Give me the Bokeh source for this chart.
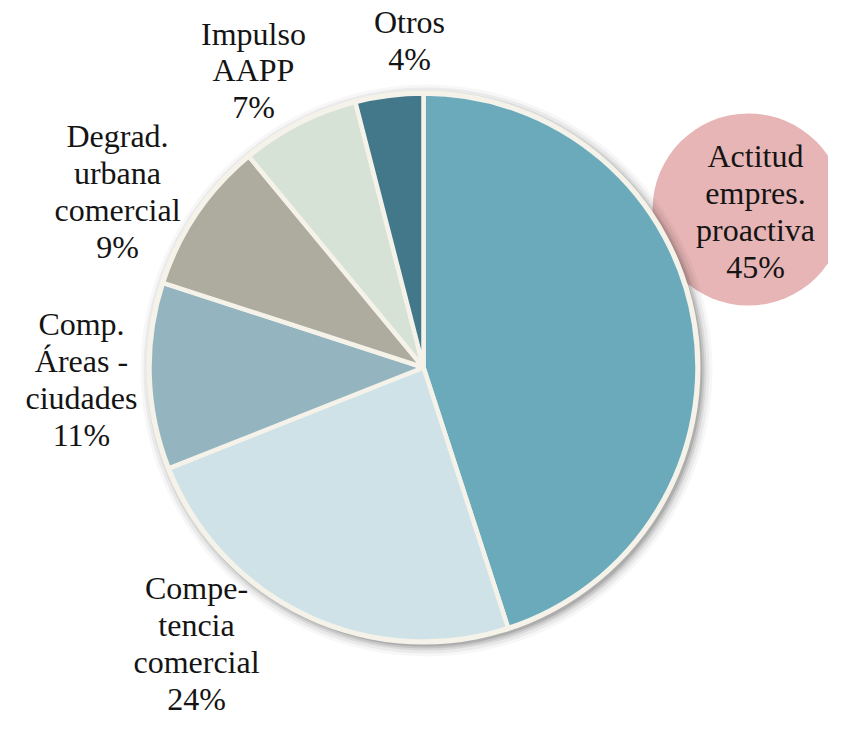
import math
from bokeh.plotting import figure
from bokeh.models import Range1d, ColumnDataSource
from bokeh.core.properties import value
from bokeh.embed import file_html
from bokeh.resources import INLINE

# ---- data ----
categories = ["Actitud\nempres.\nproactiva", "Compe-\ntencia\ncomercial",
              "Comp.\nÁreas -\nciudades", "Degrad.\nurbana\ncomercial",
              "Impulso\nAAPP", "Otros"]
shares = [45, 24, 11, 9, 7, 4]
colors = ["#6aaabb", "#cee2e7", "#94b5bf", "#aeab9f", "#d6e2d5", "#42788a"]

# ---- layout (page pixel coordinates; y is negated for data space) ----
W, H = 828, 720
OFF = 1
CX, CY, R = 424, 368, 274
label_pos = [(756, 212), (197, 644), (82, 380), (118, 192), (254, 71), (410, 41)]
bubble = (749, 210, 96)

p = figure(width=W, height=H, output_backend="svg", toolbar_location=None,
           x_range=Range1d(OFF, OFF + W), y_range=Range1d(-(OFF + H), -OFF),
           min_border=0, outline_line_color=None)
p.axis.visible = False
p.grid.visible = False
p.background_fill_color = "white"
p.border_fill_color = "white"

# highlight bubble behind biggest slice label
p.circle(x=[bubble[0]], y=[-bubble[1]], radius=bubble[2],
         fill_color="#e7b5b5", line_color=None)

# soft shadow
for k, a in [(12, 0.03), (9, 0.05), (6, 0.07), (4, 0.09), (2, 0.12)]:
    p.circle(x=[CX + 3], y=[-(CY + 3)], radius=R + k,
             fill_color="#000000", fill_alpha=a, line_color=None)

# cream outer ring
p.circle(x=[CX], y=[-CY], radius=R + 3, fill_color="#f4f2e9", line_color=None)

# wedges, clockwise from 12 o'clock
total = sum(shares)
starts, ends = [], []
acc = 0.0
for s in shares:
    a0 = math.pi / 2 - 2 * math.pi * acc / total
    acc += s
    a1 = math.pi / 2 - 2 * math.pi * acc / total
    starts.append(a0)
    ends.append(a1)

src = ColumnDataSource(dict(x=[CX] * len(shares), y=[-CY] * len(shares),
                            start=starts, end=ends, color=colors))
p.wedge(x="x", y="y", radius=R, start_angle="start", end_angle="end",
        direction="clock", fill_color="color", line_color="#f4f2e9",
        line_width=4.5, source=src)

# labels
texts = [f"{c}\n{s}%" for c, s in zip(categories, shares)]
lsrc = ColumnDataSource(dict(x=[lp[0] for lp in label_pos],
                             y=[-lp[1] for lp in label_pos], t=texts))
p.text(x="x", y="y", text="t", source=lsrc, text_align="center",
       text_baseline="middle", text_font=value("Liberation Serif"),
       text_font_size="32px", text_line_height=1.02, text_color="#141414")

open("out.html", "w").write(file_html(p, INLINE))
